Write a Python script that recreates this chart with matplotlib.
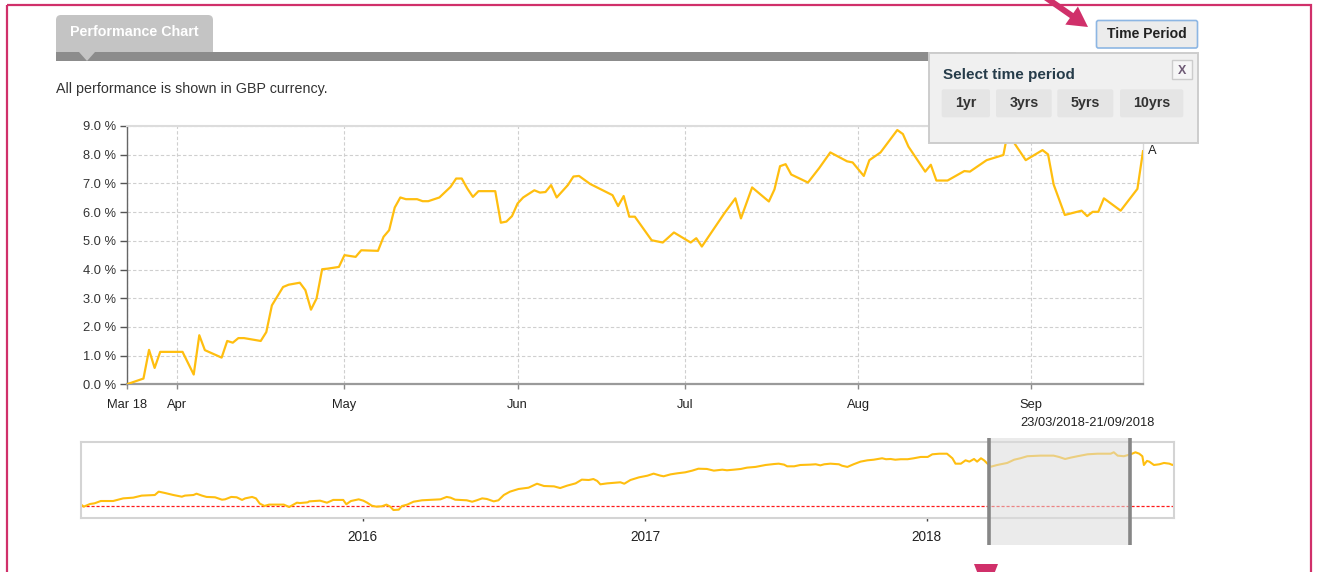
import matplotlib
matplotlib.use("Agg")
import matplotlib.pyplot as plt
import matplotlib.dates as mdates
from matplotlib.patches import Rectangle, FancyBboxPatch, FancyArrow, Polygon
import pandas as pd

plt.rcParams['font.family'] = ['Liberation Sans', 'DejaVu Sans']

# ---------------- data ----------------
main_start = "2018-03-23"
main_end = "2018-09-21"
main_days = [0, 3, 4, 5, 6, 10, 12, 13, 14, 17, 18, 19, 20, 21, 24, 25, 26, 28, 29, 31,
             32, 33, 34, 35, 36, 38, 39, 41, 42, 45, 46, 47, 48, 49, 50, 52, 53, 54, 56, 58,
             59, 60, 61, 62, 63, 66, 67, 68, 69, 70, 71, 73, 74, 75, 76, 77, 79, 80, 81, 83,
             87, 88, 89, 90, 91, 94, 96, 98, 101, 102, 103, 107, 109, 110, 112, 115, 116, 117, 118, 119,
             122, 124, 126, 129, 130, 132, 133, 135, 138, 139, 140, 143, 144, 145, 147, 150, 151, 154, 157, 158,
             159, 161, 164, 165, 166, 168, 169, 171, 172, 173, 174, 175, 178, 181, 182]
main_values = [0.00, 0.20, 1.20, 0.57, 1.13, 1.13, 0.34, 1.71, 1.19, 0.93, 1.51, 1.45, 1.61, 1.61, 1.51, 1.82, 2.75, 3.39, 3.47, 3.54,
               3.28, 2.60, 2.99, 4.01, 4.03, 4.09, 4.50, 4.44, 4.67, 4.65, 5.14, 5.37, 6.16, 6.51, 6.45, 6.45, 6.38, 6.38, 6.51, 6.88,
               7.17, 7.17, 6.82, 6.53, 6.73, 6.73, 5.63, 5.67, 5.86, 6.30, 6.51, 6.76, 6.68, 6.70, 6.94, 6.51, 6.94, 7.24, 7.26, 6.98,
               6.59, 6.21, 6.56, 5.84, 5.84, 5.02, 4.94, 5.29, 4.94, 5.09, 4.80, 5.95, 6.48, 5.78, 6.86, 6.37, 6.79, 7.60, 7.67, 7.31,
               7.03, 7.53, 8.08, 7.77, 7.73, 7.26, 7.81, 8.08, 8.86, 8.72, 8.28, 7.41, 7.65, 7.10, 7.10, 7.43, 7.41, 7.81, 7.99, 9.00,
               8.39, 7.81, 8.16, 8.01, 6.96, 5.90, 5.95, 6.05, 5.86, 6.01, 6.01, 6.48, 6.05, 6.81, 8.12]
main_last_label = "A"
y_ticks = [0, 1, 2, 3, 4, 5, 6, 7, 8, 9]
x_tick_dates = ["2018-03-23", "2018-04-01", "2018-05-01", "2018-06-01", "2018-07-01", "2018-08-01", "2018-09-01"]
x_tick_labels = ["Mar 18", "Apr", "May", "Jun", "Jul", "Aug", "Sep"]

nav_start = "2015-01-01"
nav_end = "2018-11-17"
nav_days = [0, 4, 12, 18, 26, 42, 55, 68, 79, 96, 101, 109, 120, 131, 135, 146, 150, 157, 163, 174,
            183, 187, 195, 202, 209, 213, 222, 227, 232, 238, 244, 263, 270, 280, 284, 294, 296, 310, 319, 327,
            340, 344, 350, 360, 366, 371, 377, 383, 390, 396, 401, 405, 412, 416, 423, 431, 442, 466, 474, 479,
            485, 500, 507, 513, 520, 526, 535, 541, 548, 556, 567, 580, 591, 600, 613, 621, 630, 641, 649, 658,
            664, 669, 673, 682, 693, 699, 704, 712, 723, 734, 742, 751, 755, 764, 773, 783, 792, 800, 811, 820,
            831, 837, 846, 855, 863, 874, 887, 898, 904, 911, 915, 924, 932, 945, 952, 958, 963, 971, 982, 986,
            993, 1001, 1010, 1019, 1027, 1038, 1043, 1049, 1055, 1062, 1071, 1079, 1088, 1097, 1103, 1112, 1122, 1129, 1133, 1140,
            1146, 1151, 1157, 1161, 1166, 1170, 1174, 1179, 1187, 1200, 1209, 1217, 1226, 1243, 1260, 1267, 1275, 1282, 1291, 1304,
            1317, 1325, 1334, 1338, 1343, 1351, 1360, 1366, 1371, 1375, 1377, 1381, 1384, 1390, 1397, 1403, 1410, 1414, 1417]
nav_values = [1.2, -0.8, 1.4, 2.0, 3.9, 3.9, 6.1, 6.7, 8.4, 8.9, 11.7, 10.6, 8.9, 7.5, 8.4, 8.9, 10.0, 8.4, 7.3, 7.0,
              5.0, 5.3, 7.3, 7.0, 4.8, 6.1, 7.3, 6.1, 1.7, -0.2, 0.9, 0.9, -1.1, 2.5, 2.2, 2.8, 3.6, 4.2, 2.5, 4.8,
              4.8, 1.2, 3.9, 5.3, 4.2, 2.5, 0.0, -0.8, -0.5, 0.9, -0.8, -3.6, -3.3, -0.3, 0.9, 3.3, 4.5, 5.3, 7.3, 6.7,
              5.0, 4.5, 3.3, 4.5, 6.1, 5.6, 3.6, 4.5, 8.9, 11.7, 13.9, 15.0, 18.3, 16.4, 16.1, 14.7, 16.7, 18.6, 21.7, 21.4,
              22.2, 20.6, 17.8, 18.6, 19.2, 19.5, 18.3, 21.4, 23.6, 25.0, 26.7, 25.0, 24.5, 26.1, 27.0, 27.8, 29.2, 30.8, 30.6, 29.2,
              30.0, 29.5, 30.0, 30.6, 31.7, 32.3, 33.9, 34.7, 35.0, 34.2, 32.8, 32.8, 33.9, 34.2, 34.5, 33.6, 34.5, 35.0, 34.5, 33.3,
              32.3, 34.5, 36.7, 37.8, 38.3, 39.5, 38.7, 38.9, 38.3, 38.7, 38.7, 39.5, 40.6, 40.6, 42.8, 43.3, 43.3, 39.5, 35.0, 35.0,
              37.8, 36.7, 38.9, 36.7, 39.5, 37.8, 35.3, 32.5, 33.9, 35.6, 38.3, 39.5, 41.2, 41.7, 41.7, 40.6, 38.9, 40.0, 41.2, 42.8,
              43.3, 43.3, 43.3, 44.5, 41.7, 41.2, 42.8, 44.5, 43.3, 41.2, 33.9, 37.3, 36.7, 33.9, 34.5, 35.6, 35.0, 33.9, 35.0]
nav_ylim = (-10.0, 52.8)
nav_year_ticks = ["2016-01-01", "2017-01-01", "2018-01-01"]
nav_year_labels = ["2016", "2017", "2018"]

period_buttons = ["1yr", "3yrs", "5yrs", "10yrs"]

# ---------------- derived ----------------
m0 = pd.Timestamp(main_start)
m1 = pd.Timestamp(main_end)
main_dates = [m0 + pd.Timedelta(days=d) for d in main_days]
n0 = pd.Timestamp(nav_start)
nav_dates = [n0 + pd.Timedelta(days=d) for d in nav_days]

LINE = '#FFBE0F'
PINK = '#D0306A'
TXT = '#333333'

W, H = 1320, 572
fig = plt.figure(figsize=(W / 100, H / 100), dpi=100)
fig.patch.set_facecolor('white')


def box(x1, y1, x2, y2):
    return [x1 / W, 1 - y2 / H, (x2 - x1) / W, (y2 - y1) / H]


# background layer (page chrome)
bg = fig.add_axes([0, 0, 1, 1])
bg.set_xlim(0, W)
bg.set_ylim(H, 0)
bg.axis('off')
bg.set_zorder(0)

bg.add_patch(Rectangle((6.5, 4.5), 1304.5, 620, fill=False, edgecolor=PINK, lw=1.6))
bg.add_patch(FancyBboxPatch((56, 15), 157, 44, boxstyle="round,pad=0,rounding_size=5",
                            facecolor='#c4c4c4', edgecolor='none'))
bg.add_patch(Rectangle((56, 52), 960, 9, facecolor='#8c8c8c', edgecolor='none'))
bg.add_patch(Polygon([(79, 52), (95, 52), (87, 61)], closed=True, facecolor='#c4c4c4', edgecolor='none'))
bg.text(70.5, 36, "Performance Chart", color='white', fontsize=10.3, fontweight='bold', va='baseline', ha='left')
bg.text(55.5, 92.5, "All performance is shown in GBP currency.", color=TXT, fontsize=10.3, va='baseline', ha='left')
bg.text(1155, 423.5, f"{m0:%d/%m/%Y}-{m1:%d/%m/%Y}", color='#222222', fontsize=9.3, ha='right', va='center')

# ---------------- main chart ----------------
ax = fig.add_axes(box(126.7, 126, 1143, 384.3))
ax.set_zorder(2)
ax.plot(main_dates, main_values, color=LINE, lw=1.6, solid_joinstyle='round', zorder=3)
ax.set_xlim(m0, m1)
ax.set_ylim(y_ticks[0], y_ticks[-1])
ax.set_yticks(y_ticks)
ax.set_yticklabels([f"{v:.1f} %" for v in y_ticks])
ax.set_xticks([pd.Timestamp(d) for d in x_tick_dates])
ax.set_xticklabels(x_tick_labels)
ax.grid(True, color='#cfcfcf', linestyle=(0, (3, 2)), lw=0.8)
ax.set_axisbelow(True)
ax.spines['left'].set_color('#666666')
ax.spines['left'].set_linewidth(1.0)
ax.spines['bottom'].set_color('#9a9a9a')
ax.spines['bottom'].set_linewidth(1.6)
ax.spines['top'].set_color('#dcdcdc')
ax.spines['top'].set_linewidth(1.5)
ax.spines['right'].set_color('#d8d8d8')
ax.spines['right'].set_linewidth(1.0)
ax.tick_params(axis='y', length=5.2, width=1, color='#555555', labelsize=9.3, labelcolor=TXT, pad=2.4)
ax.tick_params(axis='x', length=3.6, width=1, color='#888888', labelsize=9.3, labelcolor='#222222', pad=7.3)
ax.annotate(main_last_label, (main_dates[-1], main_values[-1]), xytext=(3.5, 0), textcoords='offset points',
            ha='left', va='center', fontsize=9.3, color='#222222', annotation_clip=False)

# ---------------- navigator ----------------
nav = fig.add_axes(box(80.7, 442.3, 1174, 517.7))
nav.set_zorder(2)
nav.plot(nav_dates, nav_values, color=LINE, lw=1.5, solid_joinstyle='round', zorder=2)
nav.axhline(0, color='#ff1a1a', lw=0.9, ls=(0, (2.5, 1.5)), zorder=1)
nav.set_xlim(n0, pd.Timestamp(nav_end))
nav.set_ylim(*nav_ylim)
nav.set_yticks([])
nav.set_xticks([pd.Timestamp(d) for d in nav_year_ticks])
nav.set_xticklabels(nav_year_labels)
nav.tick_params(axis='x', length=2, width=1, color='#444444', labelsize=9.8, labelcolor='#222222', pad=6.5)
for s in nav.spines.values():
    s.set_color('#d4d4d4')
    s.set_linewidth(1.5)
nav.axvspan(m0, m1, ymin=-0.362, ymax=1.057, facecolor='#dcdcdc', alpha=0.55, lw=0, zorder=5, clip_on=False)
nav.vlines([m0, m1], -0.362, 1.057, transform=nav.get_xaxis_transform(), colors='#868686', lw=2.6,
           clip_on=False, zorder=6)

# ---------------- foreground layer (popup, arrows) ----------------
fg = fig.add_axes([0, 0, 1, 1])
fg.set_xlim(0, W)
fg.set_ylim(H, 0)
fg.axis('off')
fg.set_zorder(10)
fg.patch.set_alpha(0)

# Time Period button
fg.add_patch(FancyBboxPatch((1096.5, 20.5), 101, 27.5, boxstyle="round,pad=0,rounding_size=2",
                            facecolor='#ececec', edgecolor='#8db6e3', lw=1.2))
fg.text(1147, 38.5, "Time Period", color='#222222', fontsize=10.1, fontweight='bold', ha='center', va='baseline')

# popup panel
fg.add_patch(Rectangle((929, 52.5), 268.5, 90.5, facecolor='#f0f0f0', edgecolor='#cdcdcd', lw=1.4))
fg.text(943, 78.5, "Select time period", color='#263c4a', fontsize=11, fontweight='bold', ha='left', va='baseline')
fg.add_patch(Rectangle((1172, 59.5), 19.5, 19, facecolor='#f6f6f6', edgecolor='#cccccc', lw=1.0))
fg.text(1181.8, 73.5, "X", color='#6e5a75', fontsize=9, fontweight='bold', ha='center', va='baseline')
btn_x = [(941.7, 990), (996, 1051.7), (1057.3, 1113.3), (1120, 1183.3)]
for (x1, x2), lab in zip(btn_x, period_buttons):
    fg.add_patch(FancyBboxPatch((x1, 89.3), x2 - x1, 28, boxstyle="round,pad=0,rounding_size=2",
                                facecolor='#e5e5e5', edgecolor='none'))
    fg.text((x1 + x2) / 2, 107.5, lab, color='#333333', fontsize=10.3, fontweight='bold', ha='center', va='baseline')

# annotation arrows
fg.add_patch(FancyArrow(1045, -3, 43, 30, width=6, head_width=22, head_length=20,
                        length_includes_head=True, facecolor=PINK, edgecolor='none'))
fg.add_patch(Polygon([(974, 564), (998, 564), (986, 595)], closed=True, facecolor=PINK, edgecolor='none'))

fig.savefig("out.png", dpi=100, facecolor='white')
